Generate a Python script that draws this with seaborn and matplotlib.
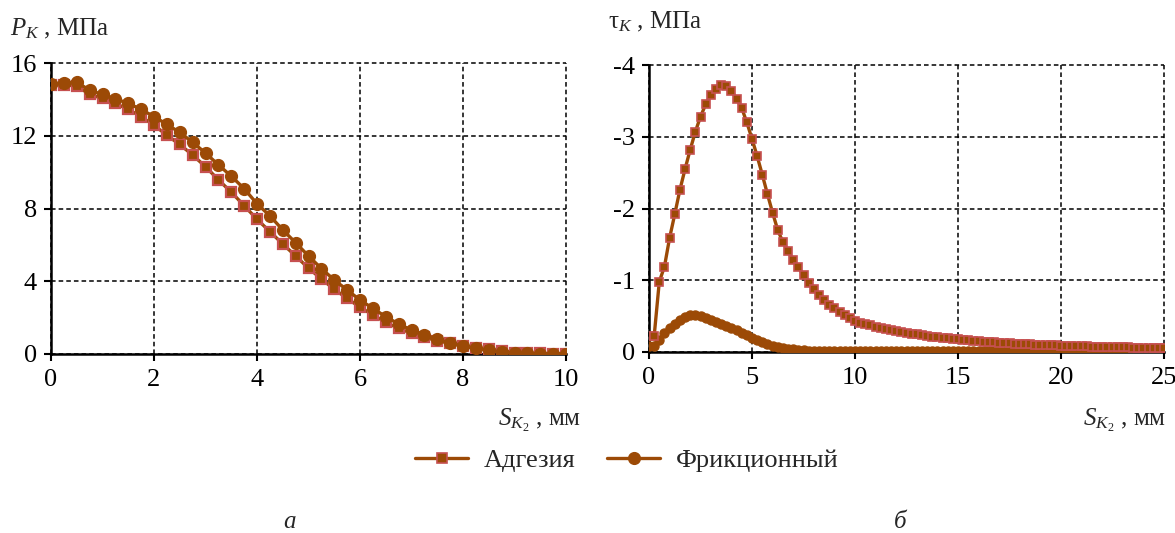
import numpy as np
import pandas as pd
import matplotlib
matplotlib.use("Agg")
import matplotlib.pyplot as plt
import seaborn as sns

# ---------------- data ----------------
x_left = [0, 0.25, 0.5, 0.75, 1, 1.25, 1.5, 1.75, 2, 2.25, 2.5, 2.75, 3, 3.25, 3.5, 3.75,
          4, 4.25, 4.5, 4.75, 5, 5.25, 5.5, 5.75, 6, 6.25, 6.5, 6.75, 7, 7.25, 7.5, 7.75,
          8, 8.25, 8.5, 8.75, 9, 9.25, 9.5, 9.75, 10]
p_adhesion = [14.80, 14.78, 14.75, 14.27, 14.05, 13.78, 13.45, 13.05, 12.58, 12.03, 11.52,
              10.94, 10.30, 9.58, 8.90, 8.16, 7.41, 6.73, 6.05, 5.39, 4.72, 4.13, 3.56, 3.06,
              2.57, 2.15, 1.74, 1.41, 1.14, 0.92, 0.73, 0.58, 0.45, 0.34, 0.26, 0.19, 0.08,
              0.05, 0.03, 0.02, 0.01]
p_friction = [14.87, 14.90, 14.95, 14.50, 14.27, 14.03, 13.78, 13.45, 13.05, 12.63, 12.18,
              11.64, 11.05, 10.40, 9.78, 9.09, 8.26, 7.60, 6.82, 6.12, 5.39, 4.70, 4.07, 3.52,
              2.97, 2.51, 2.05, 1.65, 1.32, 1.05, 0.81, 0.59, 0.44, 0.31, 0.20, 0.11, 0.06,
              0.03, 0.02, 0.01, 0.00]

x_right = [0, 0.25, 0.5, 0.75, 1, 1.25, 1.5, 1.75, 2, 2.25, 2.5, 2.75, 3, 3.25, 3.5, 3.75,
           4, 4.25, 4.5, 4.75, 5, 5.25, 5.5, 5.75, 6, 6.25, 6.5, 6.75, 7, 7.25, 7.5, 7.75,
           8, 8.25, 8.5, 8.75, 9, 9.25, 9.5, 9.75, 10, 10.25, 10.5, 10.75, 11, 11.25, 11.5,
           11.75, 12, 12.25, 12.5, 12.75, 13, 13.25, 13.5, 13.75, 14, 14.25, 14.5, 14.75,
           15, 15.25, 15.5, 15.75, 16, 16.25, 16.5, 16.75, 17, 17.25, 17.5, 17.75, 18, 18.25,
           18.5, 18.75, 19, 19.25, 19.5, 19.75, 20, 20.25, 20.5, 20.75, 21, 21.25, 21.5,
           21.75, 22, 22.25, 22.5, 22.75, 23, 23.25, 23.5, 23.75, 24, 24.25, 24.5, 24.75, 25]
tau_adhesion = [-0.22, -0.22, -0.98, -1.19, -1.59, -1.92, -2.26, -2.55, -2.82, -3.07, -3.28,
                -3.45, -3.58, -3.67, -3.72, -3.71, -3.64, -3.53, -3.40, -3.20, -2.97, -2.73,
                -2.47, -2.20, -1.94, -1.70, -1.53, -1.41, -1.28, -1.18, -1.07, -0.96, -0.88,
                -0.80, -0.72, -0.66, -0.61, -0.56, -0.51, -0.47, -0.43, -0.41, -0.39, -0.37,
                -0.35, -0.335, -0.32, -0.305, -0.29, -0.28, -0.265, -0.255, -0.245, -0.235,
                -0.225, -0.215, -0.205, -0.197, -0.19, -0.183, -0.175, -0.168, -0.162, -0.156,
                -0.15, -0.145, -0.14, -0.135, -0.13, -0.126, -0.122, -0.118, -0.114, -0.11,
                -0.106, -0.103, -0.10, -0.097, -0.094, -0.091, -0.088, -0.085, -0.083, -0.081,
                -0.079, -0.077, -0.075, -0.073, -0.071, -0.069, -0.067, -0.066, -0.064, -0.063,
                -0.061, -0.060, -0.058, -0.057, -0.056, -0.055, -0.054]
tau_friction = [-0.08, -0.08, -0.17, -0.26, -0.33, -0.39, -0.44, -0.49, -0.52, -0.52, -0.50,
                -0.48, -0.45, -0.42, -0.39, -0.36, -0.33, -0.30, -0.26, -0.23, -0.20, -0.17,
                -0.14, -0.11, -0.09, -0.07, -0.055, -0.045, -0.035, -0.03, -0.025, -0.02,
                -0.018, -0.016, -0.014, -0.013, -0.012, -0.011, -0.011, -0.010, -0.010, -0.010,
                -0.010, -0.010, -0.010, -0.009, -0.009, -0.009, -0.009, -0.009, -0.009, -0.009,
                -0.009, -0.008, -0.008, -0.008, -0.008, -0.008, -0.008, -0.008, -0.008, -0.008,
                -0.008, -0.008, -0.008, -0.008, -0.008, -0.008, -0.008, -0.008, -0.008, -0.008,
                -0.008, -0.008, -0.008, -0.008, -0.008, -0.008, -0.008, -0.008, -0.008, -0.008,
                -0.008, -0.008, -0.008, -0.008, -0.008, -0.008, -0.008, -0.008, -0.008, -0.008,
                -0.008, -0.008, -0.008, -0.008, -0.008, -0.008, -0.008, -0.008, -0.008]

series_names = ["Адгезия", "Фрикционный"]
left_xticks = [0, 2, 4, 6, 8, 10]
left_yticks = [0, 4, 8, 12, 16]
right_xticks = [0, 5, 10, 15, 20, 25]
right_yticks = [0, -1, -2, -3, -4]

# ---------------- style ----------------
sns.set_theme(style="white")
plt.rcParams["font.family"] = ["Liberation Serif", "DejaVu Serif"]
plt.rcParams["mathtext.fontset"] = "custom"
plt.rcParams["mathtext.rm"] = "Liberation Serif"
plt.rcParams["mathtext.it"] = "Liberation Serif:italic"
plt.rcParams["mathtext.bf"] = "Liberation Serif:bold"
plt.rcParams["axes.unicode_minus"] = False

BROWN = "#9C4A06"
RED_EDGE = "#C65050"

fig = plt.figure(figsize=(11.75, 5.33), dpi=100)
axL = fig.add_axes([51 / 1175, 1 - 354 / 533, 515 / 1175, 291 / 533])
axR = fig.add_axes([649 / 1175, 1 - 352 / 533, 515 / 1175, 287 / 533])

dfL = pd.DataFrame({"x": x_left, "a": p_adhesion, "f": p_friction})
dfR = pd.DataFrame({"x": x_right, "a": tau_adhesion, "f": tau_friction})

# left panel
sns.lineplot(data=dfL, x="x", y="a", ax=axL, color=BROWN, linewidth=2.4, marker="s",
             markersize=7.5, markerfacecolor=BROWN, markeredgecolor=RED_EDGE,
             markeredgewidth=1.6, label=series_names[0], zorder=3)
sns.lineplot(data=dfL, x="x", y="f", ax=axL, color=BROWN, linewidth=2.4, marker="o",
             markersize=8.5, markerfacecolor=BROWN, markeredgecolor=BROWN,
             markeredgewidth=1.0, label=series_names[1], zorder=4)

# right panel
sns.lineplot(data=dfR, x="x", y="f", ax=axR, color=BROWN, linewidth=2.4, marker="o",
             markersize=6.5, markerfacecolor=BROWN, markeredgecolor=BROWN,
             markeredgewidth=1.0, label=series_names[1], zorder=3)
sns.lineplot(data=dfR, x="x", y="a", ax=axR, color=BROWN, linewidth=2.4, marker="s",
             markersize=5.5, markerfacecolor=BROWN, markeredgecolor=RED_EDGE,
             markeredgewidth=1.2, label=series_names[0], zorder=4)

for ax in (axL, axR):
    ax.get_legend().remove()
    ax.set_xlabel("")
    ax.set_ylabel("")
    ax.grid(True, color="black", linestyle=(0, (3, 2)), linewidth=1.1)
    for l in ax.get_xgridlines() + ax.get_ygridlines():
        l.set_clip_on(False)
    ax.spines["top"].set_visible(False)
    ax.spines["right"].set_visible(False)
    for s in ("left", "bottom"):
        ax.spines[s].set_color("black")
        ax.spines[s].set_linewidth(1.8)
        ax.spines[s].set_zorder(2.5)
    ax.tick_params(direction="out", length=5, width=1.5, colors="black",
                   labelsize=19, left=True, bottom=True)
    ax.tick_params(axis="x", pad=6)
    ax.tick_params(axis="y", pad=5)
    ax.set_facecolor("white")

axL.set_xlim(0, 10)
axL.set_ylim(0, 16)
axL.set_xticks(left_xticks)
axL.set_yticks(left_yticks)
axL.set_xticklabels([str(v) for v in left_xticks])
axL.set_yticklabels([str(v) for v in left_yticks])

axR.set_xlim(0, 25)
axR.set_ylim(0, -4)
axR.set_xticks(right_xticks)
axR.set_yticks(right_yticks)
axR.set_xticklabels([str(v) for v in right_xticks])
axR.set_yticklabels([str(v) for v in right_yticks])

# axis titles
fig.text(10 / 1175, 1 - 29 / 533, r"$P_K$ , МПа", fontsize=18, va="center", ha="left")
fig.text(608 / 1175, 1 - 22 / 533, r"τ$_K$ , МПа", fontsize=18, va="center", ha="left")
fig.text(498 / 1175, 1 - 420 / 533, r"$S_{K_\mathrm{2}}$ , мм", fontsize=18, va="center", ha="left")
fig.text(1083 / 1175, 1 - 420 / 533, r"$S_{K_\mathrm{2}}$ , мм", fontsize=18, va="center", ha="left")

# panel letters
fig.text(290 / 1175, 0.5 / 533, "а", fontsize=18, style="italic", ha="center", va="bottom")
fig.text(900 / 1175, 0.5 / 533, "б", fontsize=18, style="italic", ha="center", va="bottom")

# legend
handles, labels = axR.get_legend_handles_labels()
order = [labels.index(n) for n in series_names]
leg = fig.legend([handles[i] for i in order], [labels[i] for i in order],
                 loc="center", bbox_to_anchor=(627 / 1175, 1 - 460 / 533), ncol=2,
                 frameon=False, fontsize=19, handlelength=2.0, handletextpad=0.6,
                 columnspacing=1.2, markerscale=1.3)

fig.savefig("out.png", dpi=100, facecolor="white")
